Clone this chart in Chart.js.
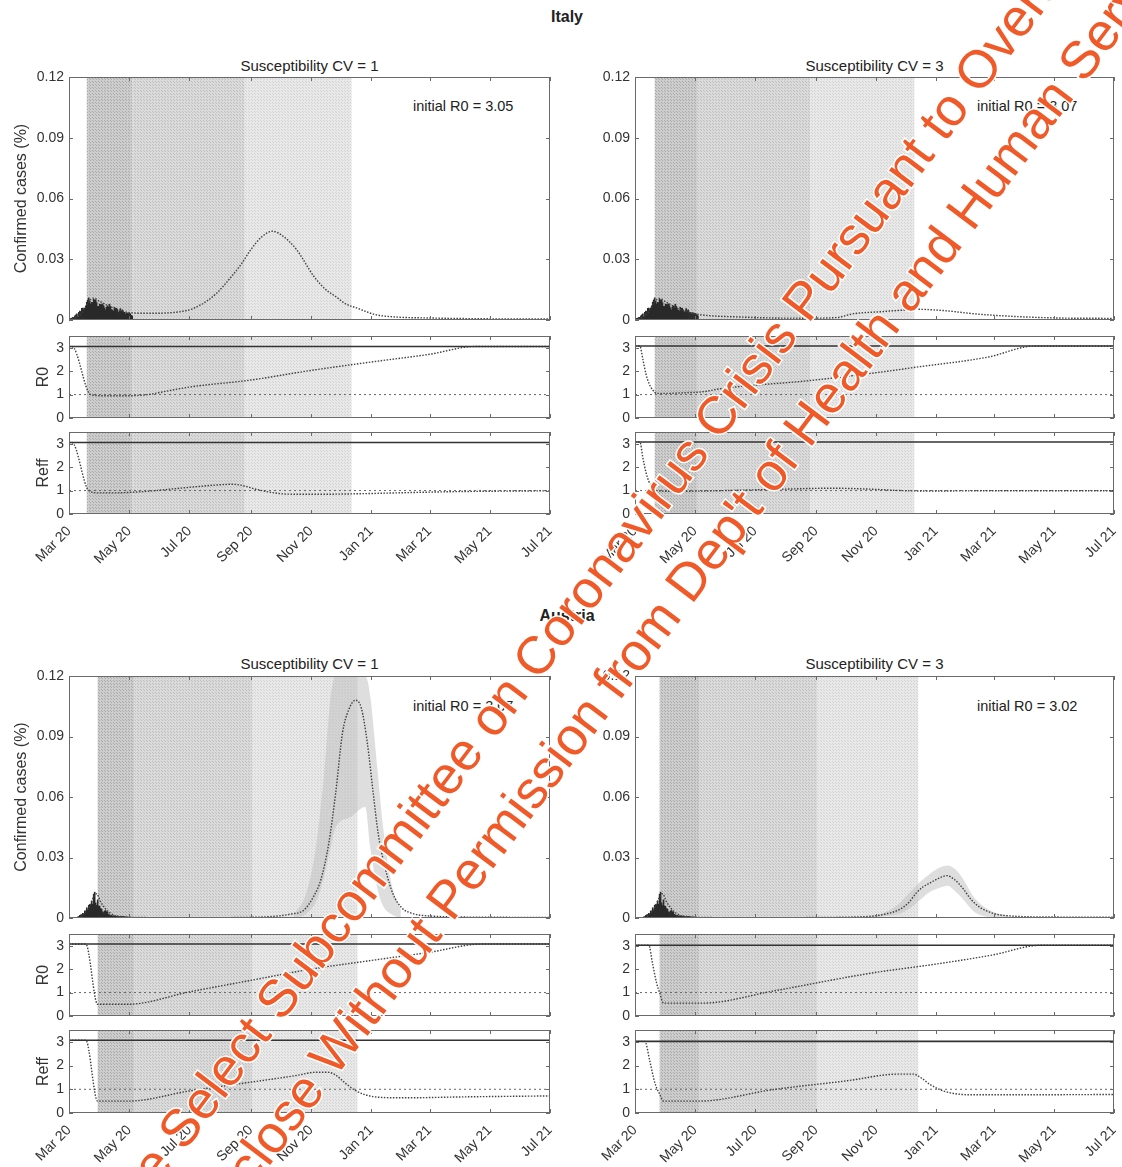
<!DOCTYPE html>
<html>
<head>
<meta charset="utf-8">
<script src="https://cdn.jsdelivr.net/npm/chart.js@4.4.1/dist/chart.umd.min.js"></script>
<style>
  html, body { margin:0; padding:0; background:#fff; }
  #root { position:relative; width:1122px; height:1167px; overflow:hidden; background:#fff; font-family:'Liberation Sans', Arial, sans-serif; color:#222; }
  .t { position:absolute; white-space:nowrap; line-height:18px; }
  .ctr { text-align:center; width:240px; }
  .wm { position:absolute; white-space:nowrap; line-height:1; font-family:'Liberation Sans', Arial, sans-serif; font-size:53px; color:#f05a28; transform-origin:0 0; transform:rotate(-53deg); -webkit-text-stroke:3px #fff; paint-order:stroke fill; z-index:10; }
</style>
</head>
<body>
<div id="root">
  <div class="t ctr" style="left:447px;top:8px;font-size:16px;font-weight:bold;">Italy</div>
  <div class="t ctr" style="left:189.5px;top:57px;font-size:15px;">Susceptibility CV = 1</div>
  <div class="t ctr" style="left:754.5px;top:57px;font-size:15px;">Susceptibility CV = 3</div>
  <div class="t" style="left:413px;top:97px;font-size:14.5px;">initial R0 = 3.05</div>
  <div class="t" style="left:977px;top:97px;font-size:14.5px;">initial R0 = 3.07</div>

  <div class="t ctr" style="left:447px;top:607px;font-size:16px;font-weight:bold;">Austria</div>
  <div class="t ctr" style="left:189.5px;top:655px;font-size:15px;">Susceptibility CV = 1</div>
  <div class="t ctr" style="left:754.5px;top:655px;font-size:15px;">Susceptibility CV = 3</div>
  <div class="t" style="left:413px;top:697px;font-size:14.5px;">initial R0 = 3.07</div>
  <div class="t" style="left:977px;top:697px;font-size:14.5px;">initial R0 = 3.02</div>

  <div class="wm" style="left:95px;top:1196px;">the Select Subcommittee on Coronavirus Crisis Pursuant to Oversight Request</div>
  <div class="wm" style="left:170px;top:1223px;">Disclose Without Permission from Dep't of Health and Human Services</div>
</div>
<script>
// ---------- axis ticks ----------
const monthTickDays   = [0, 61, 122, 184, 245, 306, 365, 426, 487];
const monthTickLabels = ['Mar 20','May 20','Jul 20','Sep 20','Nov 20','Jan 21','Mar 21','May 21','Jul 21'];
const caseTicks       = [0, 0.03, 0.06, 0.09, 0.12];
const caseTickLabels  = ['0','0.03','0.06','0.09','0.12'];
const rTicks          = [0, 1, 2, 3];
const rTickLabels     = ['0','1','2','3'];

// ---------- observed daily confirmed cases (% of population), days since 1 Mar 2020 ----------
const obsDays = [0,1,2,3,4,5,6,7,8,9,10,11,12,13,14,15,16,17,18,19,20,21,22,23,24,25,26,27,28,29,30,31,32,33,34,35,36,37,38,39,40,41,42,43,44,45,46,47,48,49,50,51,52,53,54,55,56,57,58,59,60,61,62,63,64];
const italyObs = [0.0009,0.0006,0.0008,0.001,0.0013,0.0013,0.0021,0.0025,0.003,0.0016,0.0038,0.0044,0.0042,0.0058,0.0059,0.0054,0.0058,0.007,0.0088,0.0099,0.0109,0.0092,0.0079,0.0087,0.0086,0.0103,0.0098,0.0099,0.0086,0.0067,0.0067,0.0079,0.0077,0.0076,0.008,0.0071,0.006,0.005,0.0064,0.007,0.0065,0.0078,0.0068,0.0052,0.0049,0.0044,0.0063,0.0058,0.0058,0.005,0.0037,0.0045,0.0056,0.0044,0.005,0.0039,0.0038,0.0029,0.0035,0.0035,0.0031,0.0033,0.0031,0.0023,0.002];
const austriaObs = [0,0,0.0001,0.0001,0.0001,0.0002,0.0003,0.0003,0.0003,0.0006,0.0007,0.0013,0.0016,0.0017,0.0023,0.0018,0.0035,0.0035,0.0051,0.0042,0.0063,0.0067,0.0068,0.0084,0.0068,0.0118,0.0128,0.0075,0.0063,0.009,0.0059,0.0059,0.0047,0.0044,0.0031,0.0027,0.0035,0.0037,0.0031,0.0029,0.0018,0.0016,0.0011,0.0013,0.0009,0.0011,0.0009,0.0008,0.0008,0.001,0.0006,0.0007,0.0006,0.0007,0.0008,0.0006,0.0005,0.0006,0.0005,0.0004,0.0004,0.0005,0.0005,0.0003,0.0003];

// ---------- model fits: confirmed cases ----------
const itCV1CaseDays = [0,5,10,15,20,25,30,40,50,64,80,100,115,125,140,150,162,175,183,195,206,215,230,248,260,270,280,292,310,330,365,420,487];
const itCV1CaseVals = [0,0.0008,0.002,0.005,0.009,0.0108,0.0095,0.007,0.005,0.0035,0.0033,0.0035,0.0043,0.0055,0.0095,0.0135,0.02,0.028,0.034,0.041,0.0438,0.042,0.035,0.0215,0.015,0.0116,0.008,0.0058,0.0027,0.0015,0.001,0.0006,0.0005];
const itCV3CaseDays = [0,5,10,15,20,25,30,40,50,64,80,105,140,175,205,221,250,270,286,304,320,340,376,430,487];
const itCV3CaseVals = [0,0.0008,0.002,0.005,0.009,0.0106,0.0093,0.0065,0.0045,0.0028,0.002,0.0015,0.001,0.0009,0.0012,0.003,0.0041,0.0048,0.0053,0.005,0.0044,0.0033,0.002,0.001,0.0008];
const atCV1CaseDays = [0,10,15,20,25,28,32,38,45,55,65,90,150,200,225,238,248,255,263,270,277,283,290,296,302,308,313,320,328,337,346,365,420,487];
const atCV1CaseVals = [0,0.0003,0.002,0.005,0.0105,0.012,0.008,0.004,0.0015,0.0006,0.0003,0.0002,0.0002,0.0006,0.002,0.004,0.011,0.019,0.037,0.062,0.092,0.103,0.108,0.104,0.087,0.062,0.042,0.025,0.012,0.005,0.0025,0.001,0.0004,0.0003];
const atCV1CIDays  = [228,240,250,258,265,270,285,300,305,312,318,326,336];
const atCV1CIUpper = [0.002,0.012,0.035,0.07,0.11,0.12,0.12,0.12,0.11,0.075,0.045,0.018,0.004];
const atCV1CILower = [0,0.002,0.008,0.02,0.035,0.045,0.05,0.055,0.035,0.015,0.006,0.002,0];
const atCV3CaseDays = [0,10,15,20,25,28,32,38,45,55,65,90,150,200,230,243,255,268,278,286,293,300,308,317,325,334,342,351,360,369,385,420,487];
const atCV3CaseVals = [0,0.0003,0.002,0.005,0.0105,0.012,0.008,0.004,0.0015,0.0006,0.0003,0.0002,0.0002,0.0003,0.0006,0.001,0.002,0.004,0.0075,0.0124,0.0155,0.0174,0.0195,0.021,0.019,0.0143,0.009,0.0052,0.003,0.0017,0.0009,0.0005,0.0004];
const atCV3CIDays  = [240,255,268,280,290,300,310,318,326,334,345,360,380];
const atCV3CIUpper = [0.001,0.003,0.007,0.013,0.018,0.022,0.025,0.026,0.024,0.019,0.01,0.004,0.001];
const atCV3CILower = [0,0.001,0.002,0.005,0.009,0.013,0.015,0.016,0.013,0.009,0.003,0.0005,0];

// ---------- model fits: R0 and Reff ----------
const itCV1R0Days   = [0,3,22,35,60,80,93,122,184,245,306,365,411,487];
const itCV1R0Vals   = [3.05,3.05,1.0,0.95,0.95,1.0,1.1,1.32,1.62,2.03,2.39,2.72,3.05,3.05];
const itCV1ReffDays = [0,3,20,30,45,60,80,100,130,150,165,175,190,205,220,250,300,350,400,487];
const itCV1ReffVals = [3.05,3.05,1.0,0.9,0.9,0.92,0.97,1.05,1.17,1.24,1.27,1.22,1.05,0.92,0.85,0.84,0.87,0.92,0.96,0.99];
const itCV3R0Days   = [0,5,8,11,14,18,22,30,50,69,87,178,250,286,359,406,487];
const itCV3R0Vals   = [3.07,3.07,2.5,1.9,1.5,1.2,1.05,1.05,1.08,1.12,1.25,1.6,1.96,2.17,2.6,3.07,3.07];
const itCV3ReffDays = [0,5,8,11,14,18,22,35,70,110,150,200,240,270,300,350,487];
const itCV3ReffVals = [3.07,3.07,2.4,1.8,1.4,1.15,1.0,0.97,0.98,1.02,1.06,1.1,1.06,1.0,0.98,0.99,0.99];
const atCV1R0Days   = [0,17,29,60,122,184,245,306,365,418,487];
const atCV1R0Vals   = [3.07,3.07,0.5,0.5,1.03,1.52,2.0,2.37,2.72,3.07,3.07];
const atCV1ReffDays = [0,17,29,60,122,184,230,250,262,270,280,290,300,315,340,400,487];
const atCV1ReffVals = [3.07,3.07,0.5,0.5,0.93,1.3,1.58,1.72,1.72,1.6,1.25,0.95,0.77,0.66,0.64,0.68,0.72];
const atCV3R0Days   = [0,14,18,22,25,29,69,141,240,305,363,413,487];
const atCV3R0Vals   = [3.02,3.02,2.2,1.4,1.0,0.55,0.55,1.07,1.83,2.21,2.6,3.02,3.02];
const atCV3ReffDays = [0,10,15,20,25,29,65,141,214,268,283,292,300,315,340,400,487];
const atCV3ReffVals = [3.02,3.02,2.2,1.3,0.8,0.5,0.5,0.99,1.35,1.64,1.64,1.45,1.2,0.91,0.77,0.77,0.78];

const initialR0 = { itCV1: 3.05, itCV3: 3.07, atCV1: 3.07, atCV3: 3.02 };
const thresholdR = 1;

// intervention periods (start day, end day) for dark / medium / light shading
const itCV1Bands = [[18,64],[64,178],[178,286]];
const itCV3Bands = [[20,63],[63,178],[178,284]];
const atCV1Bands = [[29,66],[66,186],[186,292]];
const atCV3Bands = [[25,65],[65,185],[185,288]];

// ---------- rendering ----------
const FONT = "'Liberation Sans', Arial, sans-serif";
const root = document.getElementById('root');
const pts = (xs, ys) => xs.map((x, i) => ({ x, y: ys[i] }));

const bandStyles = [
  { base:'#cdcdcd', dot:'#a9a9a9' },
  { base:'#dadada', dot:'#bebebe' },
  { base:'#e8e8e8', dot:'#d3d3d3' }
];
const patternCache = {};
function getPattern(ctx, st) {
  const key = st.base + st.dot;
  if (!patternCache[key]) {
    const c = document.createElement('canvas');
    c.width = 3; c.height = 3;
    const g = c.getContext('2d');
    g.fillStyle = st.base; g.fillRect(0, 0, 3, 3);
    g.fillStyle = st.dot; g.fillRect(0, 0, 1, 1); g.fillRect(2, 2, 1, 1);
    patternCache[key] = c;
  }
  return ctx.createPattern(patternCache[key], 'repeat');
}

const bandPlugin = {
  id: 'bands',
  beforeDatasetsDraw(chart, args, opts) {
    const list = opts.list || [];
    const { ctx, chartArea: a, scales: { x } } = chart;
    ctx.save();
    list.forEach((b, i) => {
      const p0 = x.getPixelForValue(b[0]), p1 = x.getPixelForValue(b[1]);
      ctx.fillStyle = getPattern(ctx, bandStyles[i]);
      ctx.fillRect(p0, a.top, p1 - p0, a.bottom - a.top);
    });
    ctx.restore();
  }
};

const framePlugin = {
  id: 'frame',
  afterDatasetsDraw(chart) {
    const { ctx, chartArea: a, scales: { x, y } } = chart;
    ctx.save();
    ctx.strokeStyle = '#6a6a6a';
    ctx.lineWidth = 1;
    ctx.strokeRect(Math.round(a.left) + 0.5, Math.round(a.top) + 0.5, Math.round(a.right - a.left) - 1, Math.round(a.bottom - a.top) - 1);
    ctx.beginPath();
    x.ticks.forEach(t => {
      const px = Math.round(x.getPixelForValue(t.value)) + 0.5;
      ctx.moveTo(px, a.bottom); ctx.lineTo(px, a.bottom - 4);
      ctx.moveTo(px, a.top); ctx.lineTo(px, a.top + 4);
    });
    y.ticks.forEach(t => {
      const py = Math.round(y.getPixelForValue(t.value)) + 0.5;
      ctx.moveTo(a.left, py); ctx.lineTo(a.left + 4, py);
      ctx.moveTo(a.right, py); ctx.lineTo(a.right - 4, py);
    });
    ctx.stroke();
    ctx.restore();
  }
};

function makeChart(o) {
  const W = o.x1 - o.x0 + o.l + o.r, H = o.y1 - o.y0 + o.t + o.b;
  const c = document.createElement('canvas');
  c.width = W; c.height = H;
  c.style.cssText = `position:absolute;left:${o.x0 - o.l}px;top:${o.y0 - o.t}px;width:${W}px;height:${H}px;`;
  root.appendChild(c);
  new Chart(c, {
    type: 'line',
    data: { datasets: o.datasets },
    options: {
      responsive: false, animation: false, devicePixelRatio: 1,
      layout: { padding: { top: o.t, right: o.r, left: 0, bottom: 0 } },
      plugins: { legend: { display: false }, tooltip: { enabled: false }, bands: { list: o.bands } },
      elements: { point: { radius: 0 } },
      scales: {
        x: {
          type: 'linear', min: 0, max: 487, offset: false,
          afterBuildTicks: s => { s.ticks = monthTickDays.map(v => ({ value: v })); },
          afterFit: s => { s.height = o.b; s.paddingLeft = 0; s.paddingRight = 0; },
          grid: { display: false, drawTicks: false }, border: { display: false },
          ticks: { display: !!o.showX, autoSkip: false, minRotation: 45, maxRotation: 45, padding: 9,
                   color: '#333', font: { family: FONT, size: 14 }, callback: (v, i) => monthTickLabels[i] }
        },
        y: {
          type: 'linear', min: o.yMin, max: o.yMax,
          afterBuildTicks: s => { s.ticks = o.yTicks.map(v => ({ value: v })); },
          afterFit: s => { s.width = o.l; s.paddingTop = 0; s.paddingBottom = 0; },
          grid: { display: false, drawTicks: false }, border: { display: false },
          ticks: { padding: 5, color: '#333', font: { family: FONT, size: 14 }, callback: (v, i) => o.yTickLabels[i] },
          title: { display: !!o.yTitle, text: o.yTitle || '', color: '#333', font: { family: FONT, size: 16 },
                   padding: { top: o.yTitlePad || 0, bottom: 0 } }
        }
      }
    },
    plugins: [bandPlugin, framePlugin]
  });
}

const lineDotted = (data, order) => ({ type:'line', data, borderColor:'#404040', borderWidth:1.4, borderDash:[1.5,1.5], pointRadius:0, cubicInterpolationMode:'monotone', fill:false, order });
const obsBars = (data) => ({ type:'bar', data, backgroundColor:'#2a2a2a', barPercentage:1, categoryPercentage:1, order:1 });
const hLine = (y, solid, order) => ({ type:'line', data: [{x:0,y},{x:487,y}], borderColor: solid ? '#333' : '#666', borderWidth: solid ? 1.6 : 1, borderDash: solid ? [] : [2,3], pointRadius:0, fill:false, order });
const ciPair = (days, up, lo) => [
  { type:'line', data: pts(days, up), borderWidth:0, pointRadius:0, cubicInterpolationMode:'monotone', backgroundColor:'rgba(190,190,190,0.5)', fill:'+1', order:3 },
  { type:'line', data: pts(days, lo), borderWidth:0, pointRadius:0, cubicInterpolationMode:'monotone', fill:false, order:4 }
];

function countryBlock(cfg) {
  const common = { x0: cfg.x0, x1: cfg.x1, l: cfg.l, r: 10, bands: cfg.bands };
  const caseSets = [lineDotted(pts(cfg.caseDays, cfg.caseVals), 0), obsBars(pts(obsDays, cfg.obs))];
  if (cfg.ci) caseSets.push(...ciPair(cfg.ci[0], cfg.ci[1], cfg.ci[2]));
  makeChart(Object.assign({}, common, {
    y0: cfg.rows[0], y1: cfg.rows[1], t: 10, b: 10, yMin: 0, yMax: 0.12,
    yTicks: caseTicks, yTickLabels: caseTickLabels,
    yTitle: cfg.left ? 'Confirmed cases (%)' : null, yTitlePad: 12, datasets: caseSets
  }));
  makeChart(Object.assign({}, common, {
    y0: cfg.rows[2], y1: cfg.rows[3], t: 8, b: 8, yMin: 0, yMax: 3.5,
    yTicks: rTicks, yTickLabels: rTickLabels,
    yTitle: cfg.left ? 'R0' : null, yTitlePad: 34,
    datasets: [hLine(cfg.r0, true, 0), lineDotted(pts(cfg.r0Days, cfg.r0Vals), 1), hLine(thresholdR, false, 2)]
  }));
  makeChart(Object.assign({}, common, {
    y0: cfg.rows[4], y1: cfg.rows[5], t: 8, b: 60, yMin: 0, yMax: 3.5, showX: true,
    yTicks: rTicks, yTickLabels: rTickLabels,
    yTitle: cfg.left ? 'Reff' : null, yTitlePad: 34,
    datasets: [hLine(cfg.r0, true, 0), lineDotted(pts(cfg.reffDays, cfg.reffVals), 1), hLine(thresholdR, false, 2)]
  }));
}

const italyRows   = [77, 320, 336, 418, 432, 514];
const austriaRows = [676, 918, 934, 1016, 1030, 1113];

countryBlock({ x0:69, x1:550, l:69, left:true, rows: italyRows, bands: itCV1Bands, obs: italyObs,
  caseDays: itCV1CaseDays, caseVals: itCV1CaseVals, r0: initialR0.itCV1,
  r0Days: itCV1R0Days, r0Vals: itCV1R0Vals, reffDays: itCV1ReffDays, reffVals: itCV1ReffVals });
countryBlock({ x0:635, x1:1114, l:45, left:false, rows: italyRows, bands: itCV3Bands, obs: italyObs,
  caseDays: itCV3CaseDays, caseVals: itCV3CaseVals, r0: initialR0.itCV3,
  r0Days: itCV3R0Days, r0Vals: itCV3R0Vals, reffDays: itCV3ReffDays, reffVals: itCV3ReffVals });
countryBlock({ x0:69, x1:550, l:69, left:true, rows: austriaRows, bands: atCV1Bands, obs: austriaObs,
  caseDays: atCV1CaseDays, caseVals: atCV1CaseVals, ci: [atCV1CIDays, atCV1CIUpper, atCV1CILower], r0: initialR0.atCV1,
  r0Days: atCV1R0Days, r0Vals: atCV1R0Vals, reffDays: atCV1ReffDays, reffVals: atCV1ReffVals });
countryBlock({ x0:635, x1:1114, l:45, left:false, rows: austriaRows, bands: atCV3Bands, obs: austriaObs,
  caseDays: atCV3CaseDays, caseVals: atCV3CaseVals, ci: [atCV3CIDays, atCV3CIUpper, atCV3CILower], r0: initialR0.atCV3,
  r0Days: atCV3R0Days, r0Vals: atCV3R0Vals, reffDays: atCV3ReffDays, reffVals: atCV3ReffVals });
</script>
</body>
</html>
